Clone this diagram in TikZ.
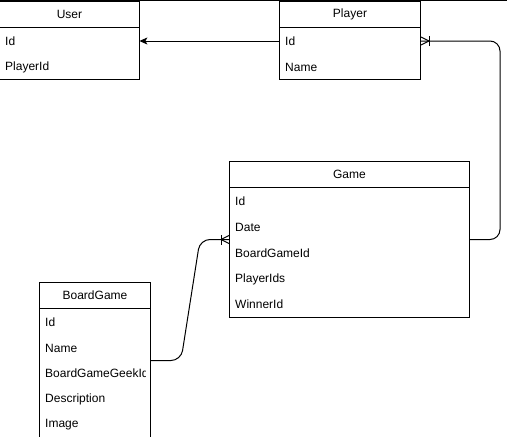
\documentclass[tikz,border=0pt]{standalone}
\usepackage{fontspec}
\setmainfont{Liberation Sans}
\usetikzlibrary{arrows.meta}
\begin{document}
\begin{tikzpicture}[x=1pt,y=-1pt,
  every node/.style={font=\fontsize{12}{14}\selectfont},
  ln/.style={line width=1pt},
  hdr/.style={draw, line width=1pt, anchor=north west, minimum height=26pt, inner sep=0pt},
  bodybox/.style={draw, line width=1pt, anchor=north west, inner sep=0pt},
  rowlbl/.style={anchor=west, inner xsep=6pt, inner ysep=0pt, minimum height=26pt, align=left},
  conn/.style={line width=1pt, rounded corners=10pt}
]
\useasboundingbox (0,0) rectangle (507,437);
\draw[ln] (0,0.5) -- (507,0.5);

% User
\node[bodybox, minimum width=140pt, minimum height=78pt] (user) at (-1,1) {};
\node[hdr, minimum width=140pt] (userh) at (-1,1) {User};
\node[rowlbl, text width=128pt] (uid) at (-1,41) {Id};
\node[rowlbl, text width=128pt] (upid) at (-1,67) {PlayerId};

% Player
\node[bodybox, minimum width=141pt, minimum height=78pt] (player) at (279,1) {};
\node[hdr, minimum width=141pt] (playerh) at (279,1) {Player};
\node[rowlbl, text width=129pt] (pid) at (279,41) {Id};
\node[rowlbl, text width=129pt] (pname) at (279,67) {Name};

% Game
\node[bodybox, minimum width=240pt, minimum height=156pt] (game) at (229,161) {};
\node[hdr, minimum width=240pt] (gameh) at (229,161) {Game};
\node[rowlbl, text width=228pt] (gid) at (229,201) {Id};
\node[rowlbl, text width=228pt] (gdate) at (229,227) {Date};
\node[rowlbl, text width=228pt] (gbg) at (229,253) {BoardGameId};
\node[rowlbl, text width=228pt] (gpids) at (229,279) {PlayerIds};
\node[rowlbl, text width=228pt] (gwin) at (229,304.5) {WinnerId};

% BoardGame
\node[bodybox, minimum width=111pt, minimum height=156pt] (bg) at (39,282) {};
\node[hdr, minimum width=111pt] (bgh) at (39,282) {BoardGame};
\begin{scope}
\clip (39,300) rectangle (145.5,437);
\node[rowlbl, text width=99pt] (bid) at (39,322) {Id};
\node[rowlbl, text width=99pt] (bname) at (39,348) {Name};
\node[rowlbl, text width=120pt] (bggid) at (39,373.5) {BoardGameGeekId};
\node[rowlbl, text width=99pt] (bdesc) at (39,399) {Description};
\node[rowlbl, text width=99pt] (bimg) at (39,425) {Image};
\end{scope}

% Player -> User
\draw[ln, -{Stealth[length=8pt,width=7pt,inset=2pt]}] (pid.west) -- (uid.east);

% Game -> Player (one-to-many at Player)
\coordinate (pr) at (player.east |- pid.west);
\coordinate (gr) at (game.east);
\draw[conn] (pr) -- ++(79,0) |- (gr);
\draw[ln] ([xshift=8pt]pr) -- ([yshift=-4pt]pr);
\draw[ln] ([xshift=8pt]pr) -- ([yshift=4pt]pr);
\draw[ln] ([xshift=8pt,yshift=-5pt]pr) -- ([xshift=8pt,yshift=5pt]pr);

% BoardGame -> Game (one-to-many at Game)
\coordinate (gl) at (game.west);
\coordinate (br) at (bg.east);
\draw[conn] (br) -- ++(30,0) -- ([xshift=-29pt]gl) -- (gl);
\draw[ln] ([xshift=-8pt]gl) -- ([yshift=-4pt]gl);
\draw[ln] ([xshift=-8pt]gl) -- ([yshift=4pt]gl);
\draw[ln] ([xshift=-8pt,yshift=-5pt]gl) -- ([xshift=-8pt,yshift=5pt]gl);
\end{tikzpicture}
\end{document}
